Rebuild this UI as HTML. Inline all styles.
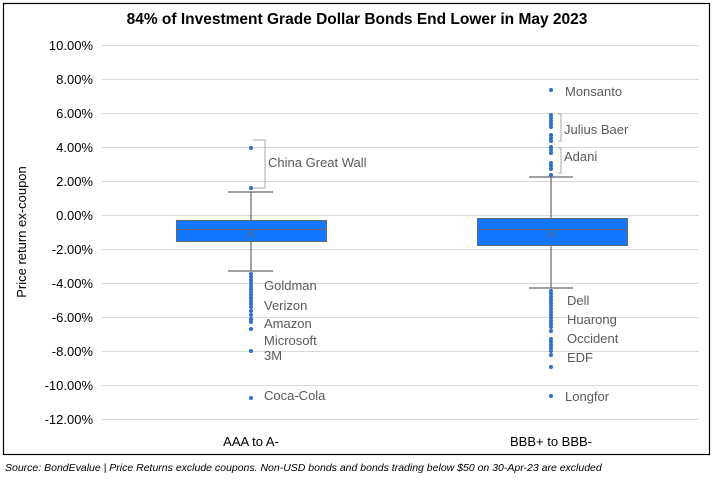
<!DOCTYPE html>
<html><head><meta charset="utf-8"><style>
body{margin:0;background:#fff;width:714px;height:477px;overflow:hidden}
text{font-family:"Liberation Sans",sans-serif}
</style></head><body>
<svg width="714" height="477" xmlns="http://www.w3.org/2000/svg">
<rect x="3.5" y="3.5" width="706" height="451" fill="#fff" stroke="#000" stroke-width="1.2"/>
<text x="357" y="24" text-anchor="middle" font-size="15.5" font-weight="bold" fill="#000">84% of Investment Grade Dollar Bonds End Lower in May 2023</text>
<g stroke="#d9d9d9" stroke-width="1">
<line x1="102" x2="699" y1="45.5" y2="45.5"/><line x1="102" x2="699" y1="79.5" y2="79.5"/>
<line x1="102" x2="699" y1="113.5" y2="113.5"/><line x1="102" x2="699" y1="147.5" y2="147.5"/>
<line x1="102" x2="699" y1="181.5" y2="181.5"/><line x1="102" x2="699" y1="215.5" y2="215.5"/>
<line x1="102" x2="699" y1="249.5" y2="249.5"/><line x1="102" x2="699" y1="283.5" y2="283.5"/>
<line x1="102" x2="699" y1="317.5" y2="317.5"/><line x1="102" x2="699" y1="351.5" y2="351.5"/>
<line x1="102" x2="699" y1="385.5" y2="385.5"/><line x1="102" x2="699" y1="419.5" y2="419.5"/>
</g>
<g font-size="13" fill="#000" text-anchor="end">
<text x="93" y="50">10.00%</text><text x="93" y="84">8.00%</text><text x="93" y="118">6.00%</text>
<text x="93" y="152">4.00%</text><text x="93" y="186">2.00%</text><text x="93" y="220">0.00%</text>
<text x="93" y="254">-2.00%</text><text x="93" y="288">-4.00%</text><text x="93" y="322">-6.00%</text>
<text x="93" y="356">-8.00%</text><text x="93" y="390">-10.00%</text><text x="93" y="424">-12.00%</text>
</g>
<text transform="translate(26,232) rotate(-90)" text-anchor="middle" font-size="13" fill="#000">Price return ex-coupon</text>
<text x="251" y="446" text-anchor="middle" font-size="13" fill="#000">AAA to A-</text>
<text x="551" y="446" text-anchor="middle" font-size="13" fill="#000">BBB+ to BBB-</text>
<text x="5" y="471" font-size="10.5" font-style="italic" fill="#000">Source: BondEvalue | Price Returns exclude coupons. Non-USD bonds and bonds trading below $50 on 30-Apr-23 are excluded</text>
<g stroke="#666" stroke-width="1.2" fill="none">
<line x1="251" x2="251" y1="192" y2="220"/><line x1="251" x2="251" y1="242" y2="271"/>
<line x1="228" x2="273" y1="192" y2="192"/><line x1="228" x2="273" y1="271" y2="271"/>
<line x1="551" x2="551" y1="177" y2="218"/><line x1="551" x2="551" y1="246" y2="288"/>
<line x1="529" x2="573" y1="177" y2="177"/><line x1="529" x2="573" y1="288" y2="288"/>
</g>
<rect x="176.5" y="220.5" width="150" height="21" fill="#1478ff" stroke="#666" stroke-width="1"/>
<line x1="177" x2="326" y1="229.5" y2="229.5" stroke="#666"/>
<rect x="477.5" y="218.5" width="150" height="27" fill="#1478ff" stroke="#666" stroke-width="1"/>
<line x1="478" x2="627" y1="229.5" y2="229.5" stroke="#666"/>
<g stroke="#666" stroke-width="0.8">
<path d="M246 230l10 8M256 230l-10 8"/><path d="M546 230l10 8M556 230l-10 8"/>
</g>
<g stroke="#aaa" fill="none" stroke-width="1">
<path d="M253 140h12v48h-12"/>
<path d="M558 114h3v27h-3"/><path d="M558 148h3v25h-3"/>
</g>
<g fill="#2f6fd0">
<circle cx="251" cy="148" r="2"/><circle cx="251" cy="188" r="2"/>
<circle cx="251" cy="274" r="2"/><circle cx="251" cy="277" r="2"/><circle cx="251" cy="280" r="2"/><circle cx="251" cy="283" r="2"/>
<circle cx="251" cy="286" r="2"/><circle cx="251" cy="289" r="2"/><circle cx="251" cy="292" r="2"/><circle cx="251" cy="295" r="2"/>
<circle cx="251" cy="298" r="2"/><circle cx="251" cy="301" r="2"/><circle cx="251" cy="304" r="2"/><circle cx="251" cy="307" r="2"/>
<circle cx="251" cy="311" r="2"/><circle cx="251" cy="315" r="2"/><circle cx="251" cy="319" r="2"/><circle cx="251" cy="322" r="2"/>
<circle cx="251" cy="329" r="2"/><circle cx="251" cy="351" r="2"/><circle cx="251" cy="398" r="2"/>
<circle cx="551" cy="90" r="2"/>
<circle cx="551" cy="115" r="2"/><circle cx="551" cy="118" r="2"/><circle cx="551" cy="121" r="2"/><circle cx="551" cy="124" r="2"/>
<circle cx="551" cy="127" r="2"/><circle cx="551" cy="135" r="2"/><circle cx="551" cy="138" r="2"/><circle cx="551" cy="141" r="2"/>
<circle cx="551" cy="147" r="2"/><circle cx="551" cy="150" r="2"/><circle cx="551" cy="153" r="2"/>
<circle cx="551" cy="163" r="2"/><circle cx="551" cy="166" r="2"/><circle cx="551" cy="169" r="2"/><circle cx="551" cy="175" r="2"/>
<circle cx="551" cy="291" r="2"/><circle cx="551" cy="294" r="2"/><circle cx="551" cy="297" r="2"/><circle cx="551" cy="300" r="2"/>
<circle cx="551" cy="303" r="2"/><circle cx="551" cy="306" r="2"/><circle cx="551" cy="309" r="2"/><circle cx="551" cy="312" r="2"/>
<circle cx="551" cy="315" r="2"/><circle cx="551" cy="318" r="2"/><circle cx="551" cy="321" r="2"/><circle cx="551" cy="324" r="2"/>
<circle cx="551" cy="327" r="2"/><circle cx="551" cy="331" r="2"/><circle cx="551" cy="339" r="2"/><circle cx="551" cy="342" r="2"/>
<circle cx="551" cy="345" r="2"/><circle cx="551" cy="348" r="2"/><circle cx="551" cy="351" r="2"/><circle cx="551" cy="355" r="2"/>
<circle cx="551" cy="367" r="2"/><circle cx="551" cy="396" r="2"/>
</g>
<g font-size="13" fill="#595959">
<text x="268" y="167">China Great Wall</text>
<text x="264" y="290">Goldman</text><text x="264" y="310">Verizon</text><text x="264" y="328">Amazon</text>
<text x="264" y="345">Microsoft</text><text x="264" y="360">3M</text><text x="264" y="400">Coca-Cola</text>
<text x="565" y="96">Monsanto</text><text x="564" y="134">Julius Baer</text><text x="564" y="161">Adani</text>
<text x="567" y="305">Dell</text><text x="567" y="324">Huarong</text><text x="567" y="343">Occident</text>
<text x="567" y="362">EDF</text><text x="565" y="401">Longfor</text>
</g>
</svg>
</body></html>
